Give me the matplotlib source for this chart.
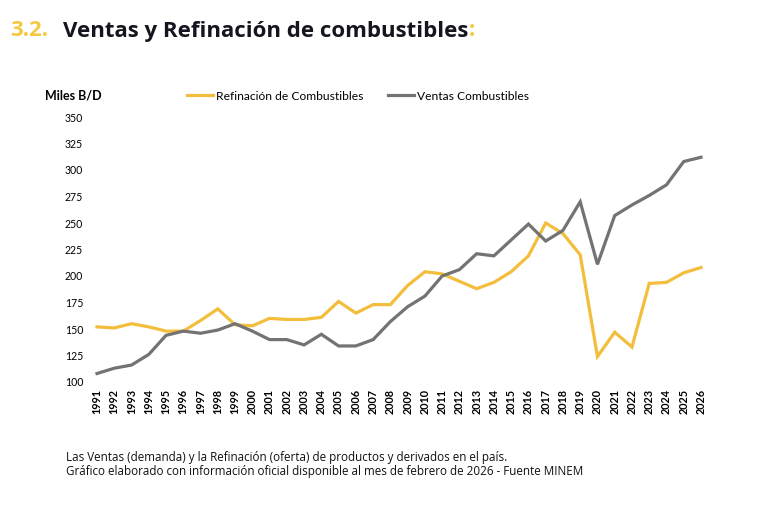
import numpy as np
import matplotlib.pyplot as plt

# Datos (Miles B/D)
years = np.arange(1991, 2027)
refinacion = [152, 151, 155, 152, 148, 148, 158, 169, 154, 153,
              160, 159, 159, 161, 176, 165, 173, 173, 191, 204,
              202, 195, 188, 194, 204, 219, 250, 240, 220, 124,
              147, 133, 193, 194, 203, 208]
ventas = [108, 113, 116, 126, 144, 148, 146, 149, 155, 148,
          140, 140, 135, 145, 134, 134, 140, 157, 171, 181,
          200, 206, 221, 219, 234, 249, 233, 243, 270, 211,
          257, 267, 276, 286, 308, 312]
yticks = [100, 125, 150, 175, 200, 225, 250, 275, 300, 325, 350]

amarillo = '#F2BE3C'
gris = '#737373'

W, H = 758, 526
fig = plt.figure(figsize=(W / 100, H / 100), dpi=100)
ax = fig.add_axes([97 / W, (H - 382) / H, (701 - 97) / W, (382 - 117) / H])

ax.plot(years, refinacion, color=amarillo, lw=2.3, clip_on=False,
        label='Refinación de Combustibles', solid_joinstyle='miter')
ax.plot(years, ventas, color=gris, lw=2.3, clip_on=False,
        label='Ventas Combustibles', solid_joinstyle='miter')

ax.set_xlim(1991, 2026)
ax.set_ylim(100, 350)
ax.set_xticks(years)
ax.set_xticklabels([str(y) for y in years], rotation=90, fontweight='bold',
                   fontsize=7.8, family='Lato')
ax.set_yticks(yticks)
ax.set_yticklabels([str(v) for v in yticks], fontsize=7.6, family='Lato')
ax.tick_params(axis='both', length=0)
ax.tick_params(axis='y', pad=10)
ax.tick_params(axis='x', pad=5)
for s in ax.spines.values():
    s.set_visible(False)

# leyenda
fig.legend(loc='center left', bbox_to_anchor=(187 / W, 1 - 96 / H),
           bbox_transform=fig.transFigure, ncol=2, frameon=False,
           handlelength=2.16, handletextpad=0.25, columnspacing=2.08,
           borderaxespad=0, borderpad=0,
           prop={'family': 'Lato', 'size': 8.65})

fig.text(45 / W, 1 - 96 / H, 'Miles B/D', fontsize=9, fontweight='bold',
         family='Lato', va='center')

# titulo
fig.text(10 / W, 1 - 31 / H, '3.2.', fontsize=16, fontweight='bold',
         color='#F5C842', family='Open Sans', va='center')
t = fig.text(63 / W, 1 - 31 / H, 'Ventas y Refinación de combustibles',
             fontsize=16, fontweight='bold', color='#15151f',
             family='Open Sans', va='center')
fig.canvas.draw()
bb = t.get_window_extent()
fig.text(bb.x1 / W + 0.001, 1 - 31 / H, ':', fontsize=16, fontweight='bold',
         color='#F5C842', family='Open Sans', va='center')

# notas
fig.text(66 / W, 1 - 458 / H,
         'Las Ventas (demanda) y la Refinación (oferta) de productos y derivados en el país.',
         fontsize=8.4, family='Open Sans', va='center', color='#111111')
fig.text(66 / W, 1 - 471 / H,
         'Gráfico elaborado con información oficial disponible al mes de febrero de 2026 - Fuente MINEM',
         fontsize=8.4, family='Open Sans', va='center', color='#111111')

fig.savefig('out.png', dpi=100)
